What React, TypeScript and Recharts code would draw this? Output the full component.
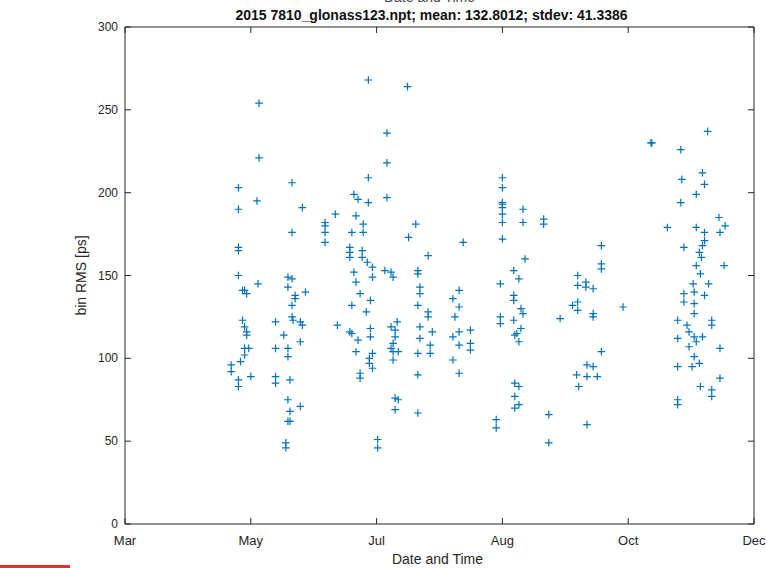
import React from 'react';
import { ScatterChart, Scatter, XAxis, YAxis } from 'recharts';

// x: days since 1 March 2015, y: bin RMS in ps
const monthTicks = [0, 61, 122, 183, 244, 305];
const monthLabels = ['Mar', 'May', 'Jul', 'Aug', 'Oct', 'Dec'];
const rmsTicks = [0, 50, 100, 150, 200, 250, 300];

const lateApril: [number, number][] = [[51.5,96],[51.5,92],[55,87],[55,83],[56,98],[58,102],[58,106],[60,106],[59,114],[59,116],[58,119],[57,123],[61,89],[58,141],[59,139],[57,141],[64.5,145],[55,150],[55,167],[55,165],[55,190],[55,203],[64,195],[65,221],[65,254]];
const may: [number, number][] = [[81,206],[86,191],[81,176],[79,149],[81,148],[79,143],[87.5,140],[82.5,138],[82.5,136],[81,132],[81,125],[81.5,123],[85,122],[86,120],[73,122],[77,114],[85,110],[73,106],[79,106],[79,101],[73,89],[73,85],[80,87],[79,75],[85,71],[80,68],[79,62],[80,62],[78,49],[78,46]];
const june: [number, number][] = [[97,182],[97,180],[97,176],[97,170],[102,187],[103,120],[118,268],[118,209],[111,199],[113,196],[118,194],[112,186],[115.5,181],[110,176],[115.5,176],[109,167],[109,164],[109,161],[115,165],[115,161],[117.5,158],[120,155],[120,149],[111,152],[112,146],[114,139],[119,135],[110,132],[117,128],[109,116],[110,115],[113,111],[119,118],[119,113],[112,104],[120,103],[118.5,100],[118.5,97],[120,94],[114,91],[114,88],[122.5,51],[122.5,46]];
const july: [number, number][] = [[127,236],[127,218],[127,197],[126,153],[129,152],[130,149],[132,122],[129,119],[131,117],[131,113],[130,109],[129,106],[130,104],[132.5,104],[130,99],[131,76],[132.5,75],[131,69],[137,264],[141,181],[137.5,173],[142,153],[142,151],[147,162],[143,143],[143,139],[142,132],[147,128],[147,125],[143,119],[143,112],[149,116],[148,108],[148,103],[142,103],[142,90],[142,67]];
const lateJuly: [number, number][] = [[164,170],[162,141],[159,136],[162,131],[160,125],[162,116],[167.5,117],[159,113],[162,108],[167.5,109],[167.5,105],[159,99],[162,91]];
const august: [number, number][] = [[183,209],[183,203],[183,194],[183,193],[183,191],[183,187],[183,182],[183,172],[182,145],[182,125],[182,121],[180,63],[180,58],[193,190],[193,182],[194,160],[188.5,153],[191,148],[188.5,138],[188.5,135],[192,130],[193,127],[188.5,123],[192,118],[190,115],[189,114],[191,110],[189,85],[191,83],[189,77],[191,72],[189,70],[203,184],[203,181],[205.5,66],[205.5,49],[211,124]];
const september: [number, number][] = [[219.5,150],[223.5,146],[219.5,144],[223.5,143],[219.5,134],[217,132],[219.5,129],[224,96],[219,90],[224,89],[229,89],[220,83],[224,60],[227,142],[227,127],[227,125],[231,168],[231,157],[231,154],[231,104],[227,95],[241.5,131],[255,230],[255.5,230]];
const november: [number, number][] = [[263,179],[269.5,226],[282.5,237],[280,212],[270,208],[281,205],[277,199],[269.5,194],[288,185],[291,180],[288.5,176],[277,179],[281,176],[281,171],[280,168],[278.5,164],[279.5,161],[271,167],[277,156],[279,151],[290.5,156],[275.5,145],[283,145],[271,139],[276,140],[281,138],[271,134],[276,133],[276,127],[268,123],[272.5,120],[273.5,116],[276,113],[277,110],[280,113],[268,112],[273.5,107],[284.5,123],[284.5,120],[288.5,106],[276,101],[278.5,97],[275,95],[268,95],[288.5,88],[279,83],[284.5,81],[284.5,77],[268,75],[268,72]];

const groups = [lateApril, may, june, july, lateJuly, august, september, november];
const data = groups.flatMap((g) => g.map(([day, rms]) => ({ day, rms })));

const FONT = '"Liberation Sans", Arial, Helvetica, sans-serif';
const AX = '#262626';
const BLUE = '#0072BD';

const Plus = (p: any) => {
  const { cx, cy } = p;
  if (cx == null || cy == null) return null;
  const s = 3.8;
  return (
    <path d={`M${cx - s},${cy}H${cx + s}M${cx},${cy - s}V${cy + s}`} stroke={BLUE} strokeWidth={1.2} fill="none" />
  );
};

const Nothing = () => <g />;

const BottomTick = (p: any) => {
  const { x, y, payload } = p;
  const i = monthTicks.indexOf(payload.value);
  return (
    <g>
      <line x1={x} y1={y} x2={x} y2={y - 6} stroke={AX} />
      <text x={x} y={y + 21} textAnchor="middle" fontSize={13} fill={AX} fontFamily={FONT}>
        {i >= 0 ? monthLabels[i] : ''}
      </text>
    </g>
  );
};

const TopTick = (p: any) => {
  const { x, y } = p;
  return <line x1={x} y1={y} x2={x} y2={y + 6} stroke={AX} />;
};

const LeftTick = (p: any) => {
  const { x, y, payload } = p;
  return (
    <g>
      <line x1={x} y1={y} x2={x + 6} y2={y} stroke={AX} />
      <text x={x - 7} y={y + 4} textAnchor="end" fontSize={12} fill={AX} fontFamily={FONT}>
        {payload.value}
      </text>
    </g>
  );
};

const RightTick = (p: any) => {
  const { x, y } = p;
  return <line x1={x} y1={y} x2={x - 6} y2={y} stroke={AX} />;
};

const TitleLabel = (p: any) => {
  const vb = p.viewBox || { x: 125, y: 27, width: 630 };
  const cx = vb.x + vb.width / 2 - 8;
  return (
    <g>
      <text x={cx - 2} y={vb.y - 24} textAnchor="middle" fontSize={14} fill="#444" fontFamily={FONT}>
        Date and Time
      </text>
      <text x={cx} y={vb.y - 6} textAnchor="middle" fontSize={14} fontWeight="bold" fill="#111" fontFamily={FONT}>
        2015 7810_glonass123.npt; mean: 132.8012; stdev: 41.3386
      </text>
    </g>
  );
};

const XLabel = (p: any) => {
  const vb = p.viewBox || { x: 125, y: 524, width: 630 };
  return (
    <text x={vb.x + vb.width / 2 - 2} y={vb.y + 40} textAnchor="middle" fontSize={14} fill={AX} fontFamily={FONT}>
      Date and Time
    </text>
  );
};

const YLabel = (p: any) => {
  const vb = p.viewBox || { x: 0, y: 27, height: 497 };
  const x = 86;
  const y = vb.y + vb.height / 2;
  return (
    <text x={x} y={y} transform={`rotate(-90 ${x} ${y})`} textAnchor="middle" fontSize={14} fill={AX} fontFamily={FONT}>
      bin RMS [ps]
    </text>
  );
};

export default function App() {
  return (
    <div style={{ position: 'absolute', left: 0, top: 0, width: 767, height: 568, background: '#fff' }}>
      <ScatterChart width={767} height={568} margin={{ top: 26, right: 12, bottom: 0, left: 0 }}>
        <XAxis
          xAxisId="b"
          dataKey="day"
          type="number"
          domain={[0, 305]}
          ticks={monthTicks}
          interval={0}
          orientation="bottom"
          height={44}
          tickSize={0}
          tickMargin={0}
          tickLine={false}
          axisLine={{ stroke: AX }}
          tick={<BottomTick />}
          label={{ content: <XLabel /> }}
        />
        <XAxis
          xAxisId="t"
          dataKey="day"
          type="number"
          domain={[0, 305]}
          ticks={monthTicks}
          interval={0}
          orientation="top"
          height={1}
          tickSize={0}
          tickMargin={0}
          tickLine={false}
          axisLine={{ stroke: AX }}
          tick={<TopTick />}
          label={{ content: <TitleLabel /> }}
        />
        <YAxis
          yAxisId="l"
          dataKey="rms"
          type="number"
          domain={[0, 300]}
          ticks={rmsTicks}
          interval={0}
          orientation="left"
          width={125}
          tickSize={0}
          tickMargin={0}
          tickLine={false}
          axisLine={{ stroke: AX }}
          tick={<LeftTick />}
          label={{ content: <YLabel /> }}
        />
        <YAxis
          yAxisId="r"
          dataKey="rms"
          type="number"
          domain={[0, 300]}
          ticks={rmsTicks}
          interval={0}
          orientation="right"
          width={1}
          tickSize={0}
          tickMargin={0}
          tickLine={false}
          axisLine={{ stroke: AX }}
          tick={<RightTick />}
        />
        <Scatter data={data} xAxisId="t" yAxisId="r" shape={<Nothing />} isAnimationActive={false} />
        <Scatter data={data} xAxisId="b" yAxisId="l" shape={<Plus />} isAnimationActive={false} />
      </ScatterChart>
      <div style={{ position: 'absolute', left: 0, top: 565, width: 70, height: 3, background: '#e0342b' }} />
    </div>
  );
}
